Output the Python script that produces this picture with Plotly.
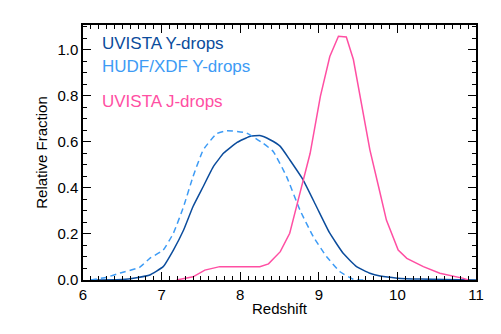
import plotly.graph_objects as go

# UVISTA Y-drops (solid dark blue)
uv_y_z = [6.1, 6.5, 6.68, 6.85, 7.02, 7.15, 7.28, 7.40, 7.53, 7.66, 7.79, 7.96, 8.12, 8.25, 8.38, 8.51, 8.63, 8.80, 8.97, 9.14, 9.31, 9.48, 9.65, 9.78, 10.0, 10.3, 10.6, 11.0]
uv_y_f = [0.0, 0.002, 0.01, 0.022, 0.058, 0.13, 0.217, 0.319, 0.406, 0.493, 0.551, 0.597, 0.623, 0.627, 0.609, 0.58, 0.522, 0.435, 0.319, 0.203, 0.116, 0.058, 0.029, 0.017, 0.008, 0.004, 0.002, 0.0]

# HUDF/XDF Y-drops (dashed light blue)
hudf_z = [6.1, 6.3, 6.47, 6.72, 6.85, 7.02, 7.15, 7.28, 7.40, 7.53, 7.70, 7.83, 8.08, 8.29, 8.42, 8.59, 8.76, 8.93, 9.10, 9.27, 9.44, 9.58]
hudf_f = [0.0, 0.012, 0.03, 0.055, 0.094, 0.13, 0.203, 0.319, 0.449, 0.565, 0.635, 0.648, 0.638, 0.594, 0.558, 0.449, 0.304, 0.188, 0.101, 0.036, 0.003, 0.0]

# UVISTA J-drops (solid pink)
uv_j_z = [7.19, 7.40, 7.55, 7.74, 8.25, 8.36, 8.51, 8.63, 8.76, 8.89, 9.02, 9.14, 9.25, 9.35, 9.44, 9.55, 9.65, 9.76, 9.86, 10.01, 10.12, 10.33, 10.54, 10.84, 10.90]
uv_j_f = [0.0, 0.014, 0.043, 0.058, 0.058, 0.07, 0.123, 0.203, 0.377, 0.55, 0.797, 0.97, 1.058, 1.055, 0.957, 0.753, 0.565, 0.406, 0.26, 0.13, 0.094, 0.058, 0.029, 0.007, 0.0]

dark = "#0B4C9C"
light = "#3D9BF5"
pink = "#FF4FA3"

fig = go.Figure()
fig.add_trace(go.Scatter(x=uv_y_z, y=uv_y_f, mode="lines", line=dict(color=dark, width=1.5, shape="spline", smoothing=0.4)))
fig.add_trace(go.Scatter(x=hudf_z, y=hudf_f, mode="lines", line=dict(color=light, width=1.5, dash="6px,4px", shape="spline", smoothing=0.4)))
fig.add_trace(go.Scatter(x=uv_j_z, y=uv_j_f, mode="lines", line=dict(color=pink, width=1.5)))

labels = [("UVISTA Y-drops", dark, 1.025), ("HUDF/XDF Y-drops", light, 0.925), ("UVISTA J-drops", pink, 0.775)]
for txt, col, yy in labels:
    fig.add_annotation(x=6.22, y=yy, text=txt, showarrow=False, xanchor="left", yanchor="middle",
                       font=dict(color=col, size=17))

axis_common = dict(showline=True, linecolor="black", linewidth=1.5, mirror="allticks", ticks="inside",
                   tickcolor="black", tickwidth=1.2, showgrid=False, zeroline=False,
                   tickfont=dict(size=15, color="black"))

fig.update_xaxes(range=[6, 11], dtick=1, ticklen=8, title=dict(text="Redshift", font=dict(size=15), standoff=2),
                 minor=dict(ticks="inside", dtick=0.1, ticklen=4, tickcolor="black", tickwidth=1), **axis_common)
fig.update_yaxes(range=[0, 1.107], dtick=0.2, tickformat=".1f", ticklen=8,
                 title=dict(text="Relative Fraction", font=dict(size=15), standoff=6),
                 minor=dict(ticks="inside", dtick=0.05, ticklen=4, tickcolor="black", tickwidth=1), **axis_common)

# page body has an 8px margin, so offsets account for it
fig.update_layout(width=501, height=334, margin=dict(l=75, r=33, t=17, b=62), showlegend=False,
                  plot_bgcolor="white", paper_bgcolor="white",
                  font=dict(family="Liberation Sans, Arial, sans-serif", color="black"))

fig.write_html("out.html")
